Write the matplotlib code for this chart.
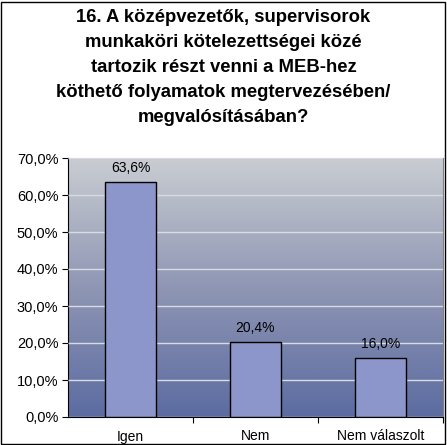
import matplotlib.pyplot as plt
import numpy as np
from matplotlib.colors import LinearSegmentedColormap
from matplotlib.patches import Rectangle

plt.rcParams['font.family'] = ['Liberation Sans', 'DejaVu Sans']

categories = ["Igen", "Nem", "Nem válaszolt"]
values = [63.6, 20.4, 16.0]
labels = ["63,6%", "20,4%", "16,0%"]
yticks = [0, 10, 20, 30, 40, 50, 60, 70]
title = ("16. A középvezetők, supervisorok\nmunkaköri kötelezettségei közé\n"
         "tartozik részt venni a MEB-hez\nköthető folyamatok megtervezésében/\n"
         "megvalósításában?")

fig = plt.figure(figsize=(4.47, 4.45), dpi=100)
ax = fig.add_axes([68 / 447, 1 - 417 / 445, (443 - 68) / 447, (417 - 158) / 445])

# gradient plot background
cmap = LinearSegmentedColormap.from_list("bg", ["#5C6CA1", "#8F96B4", "#C9CDD2"])
grad = np.linspace(0, 1, 256).reshape(-1, 1)
ax.imshow(grad, cmap=cmap, aspect="auto", origin="lower",
          extent=[-0.5, 2.5, 0, 70], zorder=0)

x = np.arange(len(categories))
ax.bar(x, values, width=0.41, color="#8C96CB", edgecolor="black", linewidth=1, zorder=3)
for xi, v, lab in zip(x, values, labels):
    ax.text(xi, v + 1.8, lab, ha="center", va="bottom", fontsize=10, zorder=4)

ax.set_xlim(-0.5, 2.5)
ax.set_ylim(0, 70)
ax.set_yticks(yticks)
ax.set_yticklabels([f"{t},0%" for t in yticks], fontsize=10.5)
ax.yaxis.grid(True, color="#D8DBE2", linewidth=1, zorder=1)
ax.set_axisbelow(False)
ax.set_xticks([0.5, 1.5, 2.5], minor=False)
ax.set_xticklabels([])
ax.tick_params(axis="x", length=4, direction="out")
ax.set_xticks(x, minor=True)
ax.set_xticklabels(categories, minor=True, fontsize=10)
ax.tick_params(axis="x", which="minor", length=0, pad=9)
ax.tick_params(axis="y", length=4, pad=3)
for s in ["top", "right"]:
    ax.spines[s].set_color("#808080")
for s in ["left", "bottom"]:
    ax.spines[s].set_color("black")

fig.text(0.5, 1 - 9 / 445, title, ha="center", va="top", fontsize=13.3,
         fontweight="bold", linespacing=1.62)

fig.patches.append(Rectangle((0.002, 0.002), 0.994, 0.994, transform=fig.transFigure,
                             fill=False, edgecolor="black", linewidth=1))

fig.savefig("out.png", dpi=100)
